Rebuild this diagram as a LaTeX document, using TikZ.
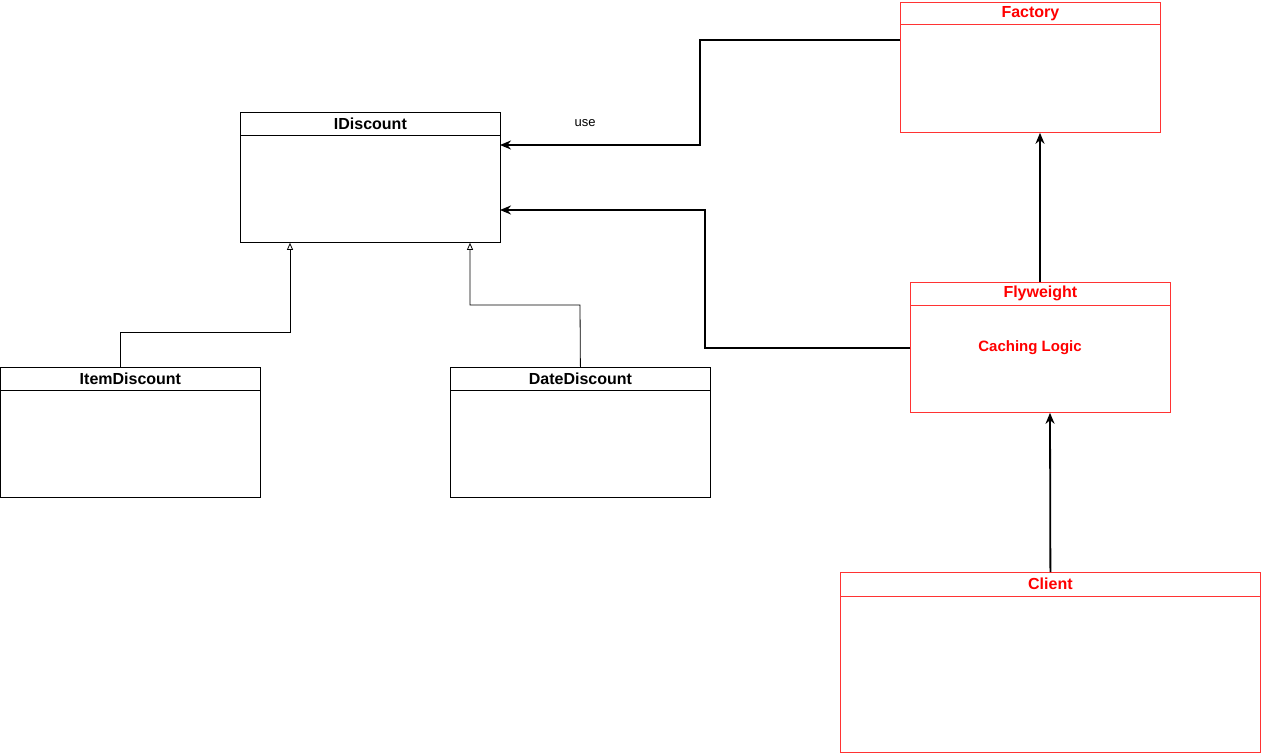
\documentclass[tikz,border=0pt]{standalone}
\usepackage{fontspec}
\setmainfont{Liberation Sans}
\usetikzlibrary{arrows.meta}
\definecolor{redline}{HTML}{FF3333}
\definecolor{redtext}{HTML}{FF0000}
\begin{document}
\begin{tikzpicture}[x=1pt,y=-1pt,
  cls/.style={draw, rectangle, anchor=north west, inner sep=0pt, line width=0.8pt},
  clsred/.style={cls, draw=redline},
  hdr/.style={anchor=north, inner sep=0pt, minimum height=23pt, font=\bfseries\fontsize{16}{18}\selectfont},
  inherit/.style={line width=0.8pt, -{Triangle[open, length=7pt, width=6pt]}},
  dep/.style={line width=1.8pt, -{Stealth[length=11pt, width=9pt]}},
  lbl/.style={font=\fontsize{13}{15}\selectfont, inner sep=1pt}
]
\useasboundingbox (0,0) rectangle (1262,753);

% classes
\node[cls, minimum width=260pt, minimum height=130pt] (idisc) at (240,112) {};
\node[hdr] (idiscH) at (idisc.north) {IDiscount};
\draw[line width=0.8pt] (240,135) -- (500,135);

\node[cls, minimum width=260pt, minimum height=130pt] (item) at (0,367) {};
\node[hdr] (itemH) at (item.north) {ItemDiscount};
\draw[line width=0.8pt] (0,390) -- (260,390);

\node[cls, minimum width=260pt, minimum height=130pt] (date) at (450,367) {};
\node[hdr] (dateH) at (date.north) {DateDiscount};
\draw[line width=0.8pt] (450,390) -- (710,390);

\node[clsred, minimum width=260pt, minimum height=130pt] (fact) at (900,2) {};
\node[hdr, text=redtext, minimum height=22pt] (factH) at (fact.north) {Factory};
\draw[line width=0.8pt, redline] (900,24) -- (1160,24);

\node[clsred, minimum width=260pt, minimum height=130pt] (fly) at (910,282) {};
\node[hdr, text=redtext] (flyH) at (fly.north) {Flyweight};
\draw[line width=0.8pt, redline] (910,305) -- (1170,305);
\node[text=redtext, font=\bfseries\fontsize{15}{17}\selectfont] (cache) at (1030,348) {Caching Logic};

\node[clsred, minimum width=420pt, minimum height=180pt] (client) at (840,572) {};
\node[hdr, text=redtext, minimum height=24pt] (clientH) at (client.north) {Client};
\draw[line width=0.8pt, redline] (840,596) -- (1260,596);

% inheritance
\draw[inherit] (item.north -| 120,0) -- (120,332) -- (290,332) -- (idisc.south -| 290,0);
\draw[inherit] (date.north) -- (580,305) -- (470,305) -- (idisc.south -| 470,0);

% dependencies
\coordinate (f1) at (900,40);
\coordinate (i1) at (500,145);
\draw[dep] (f1) -- (700,40) -- (700,145) -- (i1);
\node[lbl] (use) at (585,123) {use};

\coordinate (fl1) at (910,348);
\coordinate (i2) at (500,210);
\draw[dep] (fl1) -- (705,348) -- (705,210) -- (i2);

\draw[dep] (fly.north -| 1040,0) -- (fact.south -| 1040,0);
\draw[dep] (client.north) -- (fly.south -| 1050,0);
\end{tikzpicture}
\end{document}
